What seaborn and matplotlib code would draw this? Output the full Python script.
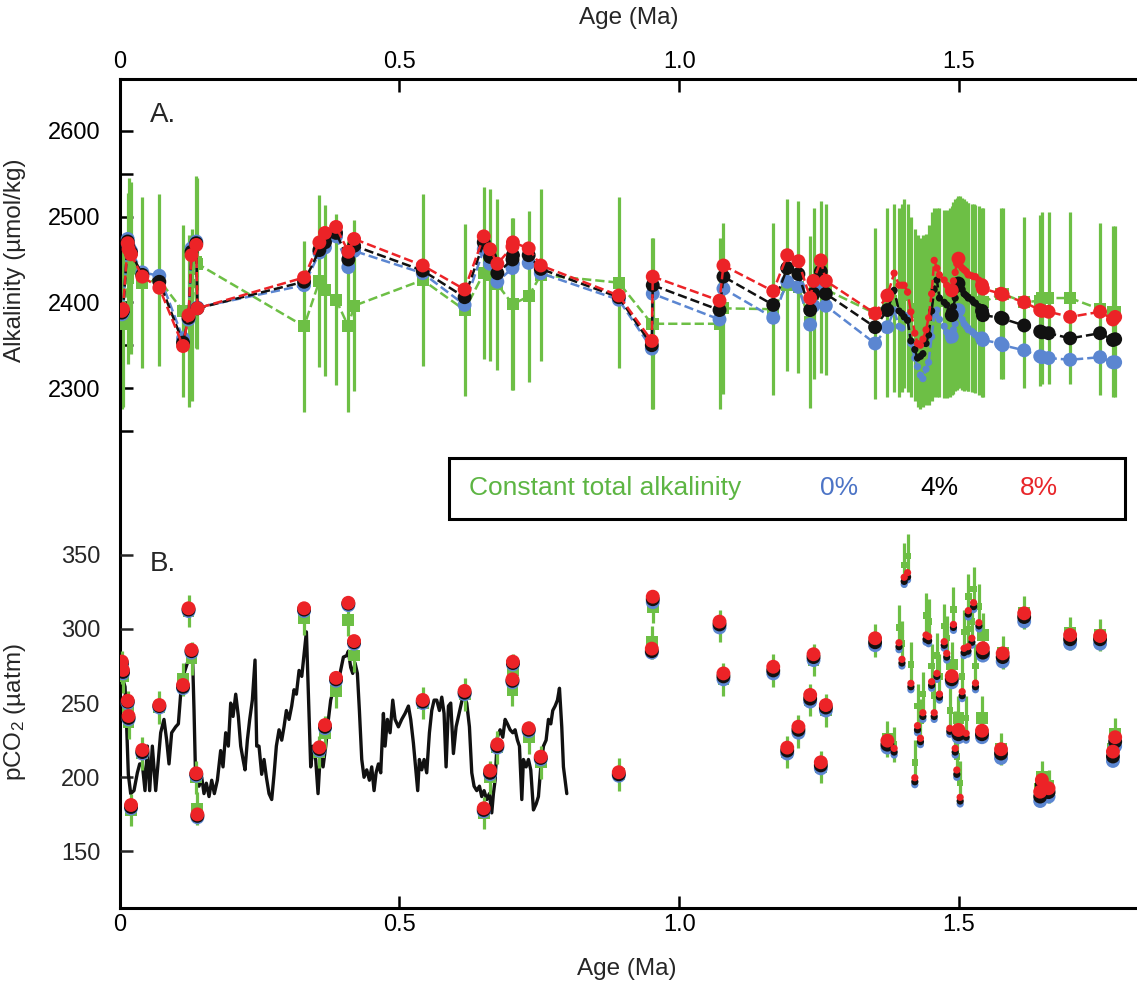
import pandas as pd
import matplotlib
matplotlib.use("Agg")
import matplotlib.pyplot as plt
import seaborn as sns
from matplotlib.patches import Rectangle

sns.set_style("ticks")
plt.rcParams['font.family'] = ['Liberation Sans', 'DejaVu Sans']
plt.rcParams['mathtext.fontset'] = 'custom'
plt.rcParams['mathtext.rm'] = 'Liberation Sans'
plt.rcParams['mathtext.it'] = 'Liberation Sans:italic'

GREEN = '#6dbf45'
BLUE = '#5b86d1'
BLACK = '#111111'
RED = '#ec2327'

# ---- boron samples (age in Ma) ----
sample_age = [0.004, 0.006, 0.0145, 0.016, 0.0204, 0.0406, 0.071, 0.1133, 0.1232, 0.1285, 0.137, 0.139,
              0.3296, 0.357, 0.367, 0.3868, 0.4087, 0.419,
              0.5417, 0.6165, 0.6507, 0.662, 0.675, 0.702, 0.7028, 0.731, 0.7526,
              0.892, 0.951, 0.9527, 1.072, 1.079, 1.168, 1.193, 1.213, 1.234, 1.240, 1.253, 1.262, 1.350, 1.372, 1.384,
              1.3927, 1.398, 1.402, 1.408, 1.414, 1.421, 1.4258, 1.431, 1.4354, 1.441, 1.4456, 1.451, 1.4556, 1.4604,
              1.465, 1.4735, 1.478, 1.4835, 1.487, 1.490, 1.4931, 1.496, 1.499, 1.502, 1.5056, 1.509, 1.5127, 1.516,
              1.5165, 1.523, 1.526, 1.5294, 1.5355, 1.541, 1.5426,
              1.575, 1.578, 1.6164, 1.645, 1.648, 1.660, 1.6985, 1.752, 1.775, 1.779]

size_code = ("LLLLLLLLLLLL" "LLLLLL" "LLLLLLLLL" "LLLLLLLLLLLLLLS"
             "SSSSSSSSSSSSSSSSSS" "L" "SSS" "L" "SSSSSSSSSS" "LL" "LLLLLLLLLL")

# alkalinity (umol/kg)
alk_const = [2375, 2378, 2428, 2445, 2440, 2423, 2426, 2390, 2378, 2385, 2447, 2445,
             2372, 2425, 2414, 2403, 2372, 2396,
             2426, 2391, 2434, 2432, 2421, 2398, 2398, 2407, 2432,
             2423, 2375, 2375, 2375, 2393, 2392, 2420, 2418, 2377, 2410, 2418, 2415, 2387, 2400, 2405,
             2400, 2405, 2410, 2405, 2395, 2385, 2378, 2375, 2378, 2380, 2385, 2395, 2400, 2400, 2400, 2398,
             2398, 2400, 2402, 2405, 2408, 2410, 2412, 2412, 2410, 2408, 2408, 2406, 2406, 2405, 2405, 2404,
             2402, 2400, 2400,
             2410, 2410, 2400, 2402, 2405, 2405, 2405, 2392, 2389, 2389]
alk_err = [100, 100, 100, 100, 100, 100, 100, 100, 100, 100, 100, 100,
           100, 100, 100, 100, 100, 100,
           100, 100, 100, 100, 100, 100, 100, 100, 100,
           100, 100, 100, 100, 100, 100, 100, 100, 100, 100, 100, 100, 100, 110, 110,
           110, 110, 110, 110, 105, 100, 100, 100, 100, 100, 105, 110, 110, 110, 110, 110,
           110, 110, 110, 112, 112, 112, 112, 112, 112, 112, 110, 110, 110, 110, 110, 110,
           110, 110, 110,
           100, 100, 100, 100, 100, 100, 100, 100, 100, 100]
alk_0 = [2386, 2388, 2474, 2466, 2460, 2435, 2431, 2358, 2380, 2463, 2471, 2394,
         2420, 2458, 2464, 2477, 2441, 2460,
         2434, 2397, 2462, 2445, 2424, 2440, 2445, 2446, 2434,
         2403, 2346, 2410, 2380, 2416, 2382, 2424, 2418, 2374, 2396, 2422, 2396, 2352, 2371, 2391,
         2372, 2370, 2385, 2384, 2352, 2335, 2325, 2315, 2311, 2322, 2330, 2360, 2385, 2391, 2380, 2372,
         2365, 2356, 2360, 2368, 2375, 2385, 2391, 2388, 2380, 2375, 2372, 2370, 2368, 2366, 2364, 2362,
         2358, 2358, 2356,
         2352, 2350, 2344, 2337, 2336, 2335, 2333, 2336, 2330, 2330]
alk_4 = [2388, 2390, 2471, 2464, 2458, 2432, 2424, 2353, 2382, 2459, 2469, 2393,
         2424, 2461, 2470, 2481, 2450, 2466,
         2437, 2406, 2470, 2453, 2434, 2450, 2455, 2455, 2439,
         2406, 2350, 2420, 2391, 2430, 2397, 2440, 2433, 2391, 2410, 2436, 2410, 2371, 2391, 2414,
         2390, 2387, 2383, 2379, 2355, 2345, 2335, 2337, 2340, 2352, 2362, 2390, 2415, 2426, 2405, 2400,
         2397, 2390, 2385, 2395, 2405, 2415, 2422, 2424, 2415, 2410, 2408, 2406, 2405, 2403, 2400, 2399,
         2395, 2390, 2385,
         2382, 2381, 2373, 2366, 2365, 2364, 2358, 2364, 2356, 2357]
alk_8 = [2390, 2392, 2469, 2462, 2456, 2430, 2417, 2349, 2385, 2455, 2467, 2393,
         2429, 2470, 2481, 2488, 2459, 2474,
         2443, 2415, 2477, 2462, 2445, 2465, 2470, 2463, 2443,
         2408, 2355, 2430, 2402, 2443, 2413, 2455, 2448, 2405, 2425, 2449, 2425, 2387, 2408, 2434,
         2420, 2420, 2420, 2412, 2389, 2364, 2352, 2350, 2357, 2368, 2382, 2410, 2449, 2440, 2432, 2426,
         2420, 2414, 2414, 2425, 2435, 2445, 2451, 2443, 2440, 2438, 2436, 2433, 2432, 2431, 2430, 2430,
         2426, 2420, 2416,
         2410, 2409, 2400, 2391, 2390, 2389, 2383, 2389, 2380, 2383]

# pCO2 (uatm)
pco2_const = [274, 268, 247, 237, 178, 216, 247, 266, 312, 280, 200, 179,
              307, 217, 230, 258, 306, 282,
              250, 256, 176, 200, 220, 259, 272, 227, 210,
              202, 291, 315, 302, 266, 272, 217, 231, 252, 279, 207, 245, 292, 226, 222,
              301, 290, 343, 349, 276, 210, 248, 238, 256, 309, 305, 275, 255, 282, 268, 302,
              294, 245, 276, 313, 230, 214, 240, 196, 268, 298, 240, 300, 322, 305, 327, 275,
              315, 240, 296,
              219, 284, 311, 192, 200, 194, 297, 296, 219, 229]
pco2_err = [11, 11, 11, 11, 11, 11, 11, 11, 11, 11, 11, 11,
            11, 11, 11, 11, 11, 11,
            11, 11, 11, 11, 11, 11, 11, 11, 11,
            11, 11, 11, 11, 11, 11, 11, 11, 11, 11, 11, 11, 11, 12, 12,
            15, 15, 15, 15, 15, 15, 15, 15, 15, 15, 15, 15, 15, 15, 15, 15,
            15, 15, 15, 15, 15, 15, 15, 15, 15, 15, 15, 15, 15, 15, 15, 15,
            15, 15, 15,
            11, 11, 11, 11, 11, 11, 11, 11, 11, 11]
pco2_0 = [276, 270, 250, 239, 179, 216, 247, 260, 312, 284, 201, 173,
          312, 218, 233, 265, 316, 290,
          250, 256, 177, 202, 220, 264, 276, 231, 212,
          201, 284, 318, 301, 266, 270, 216, 230, 251, 279, 206, 245, 289, 220, 215,
          286, 275, 330, 333, 259, 195, 230, 222, 239, 291, 290, 260, 239, 266, 252, 287,
          279, 229, 264, 299, 215, 200, 227, 182, 253, 282, 225, 283, 308, 289, 313, 259,
          300, 227, 282,
          213, 278, 305, 184, 192, 187, 290, 290, 211, 221]
pco2_4 = [277, 271, 251, 240, 180, 217, 248, 261, 313, 285, 202, 174,
          313, 219, 234, 266, 317, 291,
          251, 257, 178, 203, 221, 265, 277, 232, 213,
          202, 285, 320, 303, 268, 272, 218, 232, 253, 281, 208, 247, 291, 222, 217,
          288, 277, 332, 335, 261, 197, 232, 224, 241, 293, 292, 262, 241, 268, 254, 289,
          281, 231, 266, 301, 217, 202, 229, 184, 255, 284, 227, 285, 310, 291, 315, 261,
          302, 229, 284,
          216, 281, 308, 187, 195, 190, 293, 293, 214, 224]
pco2_8 = [278, 272.3, 251.6, 241.3, 181.3, 218.4, 248.7, 262.2, 313.9, 285.8, 202.7, 175,
          313.9, 220.2, 235.2, 267, 317.6, 291.8,
          252.1, 258.2, 179.1, 204.5, 222.2, 266, 277.9, 233, 213.9,
          203.4, 286.7, 321.7, 304.9, 270, 274.5, 220, 234.1, 255.5, 282.9, 210.1, 248.7, 293.7, 224.7, 219.5,
          290.7, 279.5, 334.8, 337.9, 263.3, 199.7, 234.8, 226.3, 243.5, 295.9, 294.8, 264.4, 243.5, 270,
          256.1, 291.4, 283.5, 233, 268.2, 303, 219.5, 204.9, 231.9, 186.5, 257.7, 286.9, 229.6, 288,
          312.3, 293.7, 317.7, 263.5, 304.2, 231.4, 287,
          218.9, 283.5, 310.5, 190.3, 198.2, 192.6, 295.9, 295.2, 217.3, 227]

# ---- ice core CO2 record ----
ice_age = [0.002, 0.005, 0.0097, 0.012, 0.0156, 0.0198, 0.0257, 0.0317, 0.0359, 0.0406, 0.0454, 0.0496,
           0.0537, 0.0585, 0.0645, 0.0734, 0.0793, 0.0841, 0.0883, 0.0930, 0.1002, 0.1050, 0.1091, 0.1151,
           0.1211, 0.1258, 0.1300, 0.1330, 0.1359, 0.1419, 0.1467, 0.1508, 0.1550, 0.1598, 0.1646, 0.1693,
           0.1747, 0.1806, 0.1848, 0.1896, 0.1943, 0.1985, 0.2027, 0.2075, 0.2122, 0.2164, 0.2206, 0.2241,
           0.2283, 0.2325, 0.2372, 0.2420, 0.2450, 0.2491, 0.2539, 0.2581, 0.2623, 0.2670, 0.2718, 0.2760,
           0.2801, 0.2849, 0.2897, 0.2938, 0.2980, 0.3028, 0.3075, 0.3117, 0.3159, 0.3207, 0.3255, 0.3296,
           0.3338, 0.3373, 0.3415, 0.3457, 0.3504, 0.3546, 0.3594, 0.3636, 0.3683, 0.3731, 0.3772, 0.3832,
           0.3880, 0.3939, 0.3999, 0.4058, 0.4088, 0.4130, 0.4166, 0.4207, 0.4249, 0.4285, 0.4327, 0.4368,
           0.4416, 0.4464, 0.4505, 0.4547, 0.4583, 0.4625, 0.4666, 0.4714, 0.4744, 0.4785, 0.4833, 0.4881,
           0.4922, 0.4982, 0.5041, 0.5101, 0.5161, 0.5202, 0.5250, 0.5298, 0.5327, 0.5357, 0.5399, 0.5441,
           0.5488, 0.5536, 0.5578, 0.5620, 0.5667, 0.5715, 0.5757, 0.5798, 0.5834, 0.5876, 0.5917, 0.5965,
           0.6013, 0.6054, 0.6096, 0.6144, 0.6203, 0.6251, 0.6293, 0.6334, 0.6382, 0.6430, 0.6471, 0.6513,
           0.6561, 0.6608, 0.6650, 0.6680, 0.6710, 0.6751, 0.6799, 0.6847, 0.6889, 0.6930, 0.6978, 0.7026,
           0.7067, 0.7109, 0.7145, 0.7187, 0.7216, 0.7264, 0.7306, 0.7347, 0.7395, 0.7443, 0.7484, 0.7526,
           0.7574, 0.7621, 0.7663, 0.7705, 0.7740, 0.7782, 0.7824, 0.7860, 0.7901, 0.7931, 0.7991]
ice_co2 = [279, 267, 261, 241, 202, 189, 191, 203, 209, 209, 191, 221,
           191, 221, 191, 230, 239, 225, 209, 230, 234, 236, 256, 270,
           277, 281, 286, 245, 198, 194, 200, 189, 196, 187, 198, 189,
           198, 218, 207, 230, 221, 250, 241, 256, 241, 221, 212, 205,
           225, 239, 252, 279, 221, 221, 202, 212, 200, 189, 185, 202,
           221, 232, 225, 234, 245, 239, 248, 259, 256, 272, 268, 283,
           298, 256, 207, 221, 212, 189, 221, 207, 221, 239, 252, 261,
           256, 270, 281, 282, 285, 274, 270, 277, 270, 245, 212, 200,
           205, 198, 207, 191, 203, 209, 203, 243, 221, 239, 230, 252,
           239, 234, 239, 243, 248, 239, 223, 203, 191, 212, 205, 212,
           203, 230, 245, 252, 252, 245, 254, 243, 207, 248, 250, 216,
           234, 241, 248, 256, 250, 234, 203, 194, 191, 194, 187, 191,
           185, 189, 176, 189, 198, 227, 232, 227, 239, 236, 232, 230,
           232, 225, 221, 185, 212, 207, 212, 205, 178, 182, 187, 207,
           221, 225, 239, 236, 245, 248, 252, 260, 234, 207, 189]

cols = [size_code, alk_const, alk_err, alk_0, alk_4, alk_8, pco2_const, pco2_err, pco2_0, pco2_4, pco2_8]
for c in cols:
    if len(c) != len(sample_age):
        raise ValueError(f"length mismatch {len(c)} vs {len(sample_age)}")
if len(ice_age) != len(ice_co2):
    raise ValueError(f"ice length mismatch {len(ice_age)} vs {len(ice_co2)}")

df = pd.DataFrame({'age': sample_age, 'size': list(size_code),
                   'alk_const': alk_const, 'alk_err': alk_err,
                   'alk_0': alk_0, 'alk_4': alk_4, 'alk_8': alk_8,
                   'pco2_const': pco2_const, 'pco2_err': pco2_err,
                   'pco2_0': pco2_0, 'pco2_4': pco2_4, 'pco2_8': pco2_8})
ice = pd.DataFrame({'age': ice_age, 'co2': ice_co2})

W, H = 1137, 982
fig = plt.figure(figsize=(W / 100, H / 100), dpi=100)
rect = [119.6 / W, (H - 908) / H, (W - 119.6) / W, 829 / H]
ax = fig.add_axes(rect)
ax2 = fig.add_axes(rect)
ax2.patch.set_visible(False)

circle_sizes = {'L': 100, 'S': 27}
square_sizes = {'L': 72, 'S': 22}

# ---- A. alkalinity ----
ax.vlines(df['age'], df['alk_const'] - df['alk_err'], df['alk_const'] + df['alk_err'],
          color=GREEN, lw=2.3, zorder=1)
sns.lineplot(data=df, x='age', y='alk_const', ax=ax, color=GREEN, lw=1.8, linestyle='--',
             estimator=None, sort=False, zorder=2)
sns.scatterplot(data=df, x='age', y='alk_const', ax=ax, color=GREEN, marker='s', size='size',
                sizes=square_sizes, linewidth=0, legend=False, zorder=3)
for col, c, z in [('alk_0', BLUE, 4), ('alk_4', BLACK, 6), ('alk_8', RED, 8)]:
    sns.lineplot(data=df, x='age', y=col, ax=ax, color=c, lw=1.8, linestyle='--',
                 estimator=None, sort=False, zorder=z)
    sns.scatterplot(data=df, x='age', y=col, ax=ax, color=c, marker='o', size='size',
                    sizes=circle_sizes, linewidth=0, legend=False, zorder=z + 1)

# ---- B. pCO2 ----
sns.lineplot(data=ice, x='age', y='co2', ax=ax2, color=BLACK, lw=2.4,
             estimator=None, sort=False, zorder=1)
ax2.vlines(df['age'], df['pco2_const'] - df['pco2_err'], df['pco2_const'] + df['pco2_err'],
           color=GREEN, lw=2.3, zorder=2)
sns.scatterplot(data=df, x='age', y='pco2_const', ax=ax2, color=GREEN, marker='s', size='size',
                sizes=square_sizes, linewidth=0, legend=False, zorder=3)
for col, c, z in [('pco2_0', BLUE, 4), ('pco2_4', BLACK, 5), ('pco2_8', RED, 6)]:
    sns.scatterplot(data=df, x='age', y=col, ax=ax2, color=c, marker='o', size='size',
                    sizes=circle_sizes, linewidth=0, legend=False, zorder=z)

# ---- axes styling ----
for a in (ax, ax2):
    a.set_xlim(0, 1.818)
    a.set_xlabel('')
    a.set_ylabel('')
ax.set_ylim(1693.3, 2660.6)
ax2.set_ylim(111.9, 670.6)

ax.set_xticks([0, 0.5, 1.0, 1.5])
ax.set_xticklabels(['0', '0.5', '1.0', '1.5'])
alk_ticks = [2250, 2300, 2350, 2400, 2450, 2500, 2550, 2600]
ax.set_yticks(alk_ticks)
ax.set_yticklabels([str(v) if v % 100 == 0 and v >= 2300 else '' for v in alk_ticks])
ax2.set_yticks([150, 200, 250, 300, 350])
ax2.set_yticklabels(['150', '200', '250', '300', '350'])

ax.tick_params(axis='both', direction='in', length=9, width=1.8, labelsize=17, colors='black')
ax.tick_params(axis='x', top=True, labeltop=True, bottom=True, labelbottom=True, pad=4)
ax.tick_params(axis='y', pad=14, right=False)
ax2.tick_params(axis='x', bottom=False, top=False, labelbottom=False, labeltop=False)
ax2.tick_params(axis='y', direction='in', length=9, width=1.8, labelsize=17, pad=14, right=False)

for s in ['left', 'top', 'bottom']:
    ax.spines[s].set_linewidth(2.2)
    ax.spines[s].set_color('black')
ax.spines['right'].set_visible(False)
for s in ax2.spines.values():
    s.set_visible(False)

# ---- text ----
fig.text(15 / W, 1 - 260 / H, 'Alkalinity (µmol/kg)', rotation=90, ha='center', va='center', fontsize=17.5)
fig.text(15 / W, 1 - 712 / H, 'pCO$_2$ (µatm)', rotation=90, ha='center', va='center', fontsize=17.5)
fig.text(629 / W, 1 - 18 / H, 'Age (Ma)', ha='center', va='center', fontsize=17.5)
fig.text(627 / W, 1 - 969 / H, 'Age (Ma)', ha='center', va='center', fontsize=17.5)
fig.text(150 / W, 1 - 115 / H, 'A.', ha='left', va='center', fontsize=20)
fig.text(150 / W, 1 - 564 / H, 'B.', ha='left', va='center', fontsize=20)

# legend box
fig.patches.append(Rectangle((449 / W, 1 - 519 / H), (1125 - 449) / W, 61 / H,
                             transform=fig.transFigure, facecolor='white', edgecolor='black', lw=2.2))
ly = 1 - 488 / H
fig.text(469 / W, ly, 'Constant total alkalinity', color='#5db543', ha='left', va='center', fontsize=19)
fig.text(820 / W, ly, '0%', color='#4c74c6', ha='left', va='center', fontsize=19)
fig.text(920 / W, ly, '4%', color='black', ha='left', va='center', fontsize=19)
fig.text(1020 / W, ly, '8%', color='#e8262a', ha='left', va='center', fontsize=19)

fig.savefig('out.png', dpi=100)
